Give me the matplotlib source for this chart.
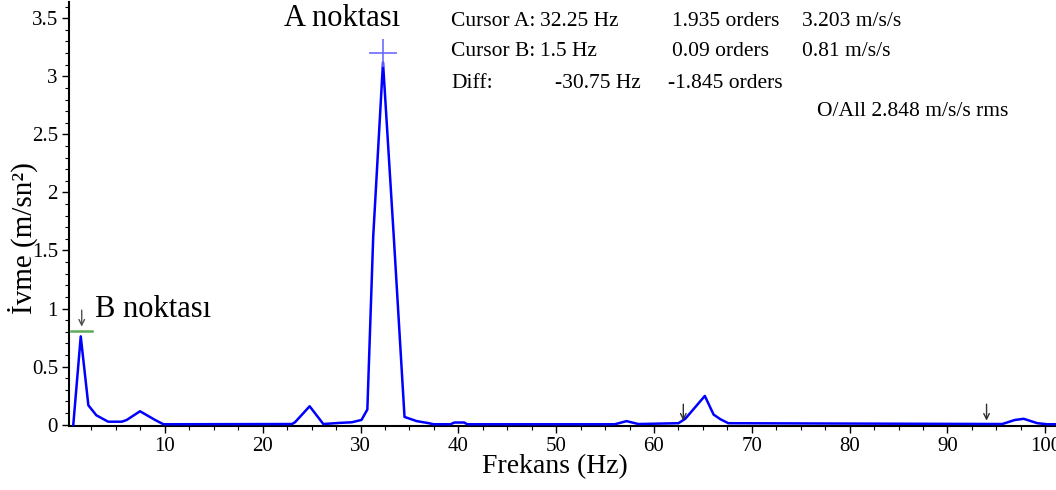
import matplotlib
matplotlib.use("Agg")
from matplotlib import pyplot as plt
from matplotlib.ticker import MultipleLocator, FormatStrFormatter
import numpy as np

plt.rcParams["font.family"] = ["Liberation Serif", "DejaVu Serif"]

# spectrum (Hz, m/s^2)
freq = [0.64, 1.4, 2.18, 3.0, 4.2, 5.6, 6.1, 7.46, 9.0, 9.85,
        23.0, 23.3, 24.8, 26.2, 27.9, 29.1, 30.1, 30.7,
        31.3, 32.3, 33.4, 34.5, 35.75, 36.8, 37.5,
        39.2, 39.6, 40.6, 40.9, 56.0, 57.2, 58.4,
        62.5, 63.2, 65.2, 66.1, 66.8, 67.6,
        95.6, 96.9, 97.8, 99.2, 100.2, 102.0]
accel = [0.0, 0.76, 0.166, 0.08, 0.025, 0.025, 0.04, 0.115, 0.04, 0.003,
         0.005, 0.02, 0.158, 0.005, 0.015, 0.02, 0.04, 0.13,
         1.62, 3.12, 1.62, 0.066, 0.03, 0.015, 0.003,
         0.003, 0.018, 0.018, 0.003, 0.003, 0.03, 0.005,
         0.012, 0.05, 0.247, 0.086, 0.046, 0.012,
         0.005, 0.04, 0.05, 0.012, 0.003, 0.003]

cursor_a = (32.25, 3.203)
cursor_b = (1.5, 0.81)
harmonic_marks = [63.0, 94.0]

info_rows = [
    ["Cursor A:", "32.25 Hz", "1.935 orders", "3.203 m/s/s"],
    ["Cursor B:", "1.5 Hz", "0.09 orders", "0.81 m/s/s"],
    ["Diff:", "-30.75 Hz", "-1.845 orders", ""],
]
overall = "O/All 2.848 m/s/s rms"

W, H = 1056, 490
fig = plt.figure(figsize=(W / 100, H / 100), dpi=100)
ax = fig.add_axes([69 / W, 1 - 426 / H, 1 - 69 / W, (426 - 2) / H])

ax.plot(freq, accel, color="#0000ff", lw=1.8, zorder=3)

ax.set_xlim(0.2, 101.1)
ax.set_ylim(-0.012, 3.64)
ax.spines["top"].set_visible(False)
ax.spines["right"].set_visible(False)
ax.spines["left"].set_linewidth(1.5)
ax.spines["bottom"].set_linewidth(1.5)

ax.set_xticks(np.arange(10, 101, 10))
ax.xaxis.set_minor_locator(MultipleLocator(2.5))
ax.yaxis.set_major_locator(MultipleLocator(0.5))
ax.yaxis.set_minor_locator(MultipleLocator(0.1))
ax.yaxis.set_major_formatter(FormatStrFormatter("%g"))
ax.tick_params(which="major", length=5, width=1, labelsize=15, pad=3)
ax.tick_params(which="minor", length=3, width=0.8)

ax.set_xlabel("Frekans (Hz)", fontsize=20)
ax.set_ylabel("İvme (m/sn²)", fontsize=21)
ax.xaxis.set_label_coords((555 - 69) / (W - 69), -(454 - 426) / 424)
ax.yaxis.set_label_coords(-(69 - 38) / (W - 69), (426 - 238) / 424)

# cursor markers
ax.plot([cursor_a[0]], [cursor_a[1]], marker="+", ms=20, mew=1.2,
        color="#6c6cff", zorder=4)
ax.plot([cursor_b[0] - 1.1, cursor_b[0] + 1.1], [cursor_b[1]] * 2,
        color="#5cab5c", lw=1.8, zorder=4)
ax.annotate("", xy=(cursor_b[0], cursor_b[1] + 0.01),
            xytext=(cursor_b[0], cursor_b[1] + 0.2),
            arrowprops=dict(arrowstyle="->", color="#505050", lw=1))
for m in harmonic_marks:
    ax.annotate("", xy=(m, 0.01), xytext=(m, 0.2),
                arrowprops=dict(arrowstyle="->", color="#303030", lw=1))

ax.text(28.1, 3.5, "A noktası", fontsize=22, ha="center", va="center")
ax.text(2.9, 0.99, "B noktası", fontsize=22, ha="left", va="center")

col_x = [451, 540, 672, 802]
row_y = [22, 52, 83]
for r, row in enumerate(info_rows):
    for c, txt in enumerate(row):
        x = col_x[c]
        if r == 2 and c == 1:
            x = 555
        if r == 2 and c == 2:
            x = 668
        fig.text(x / W, 1 - row_y[r] / H, txt, fontsize=15.5,
                 ha="left", va="center")
fig.text(817 / W, 1 - 111 / H, overall, fontsize=15.5, ha="left", va="center")

fig.savefig("out.png", dpi=100)
